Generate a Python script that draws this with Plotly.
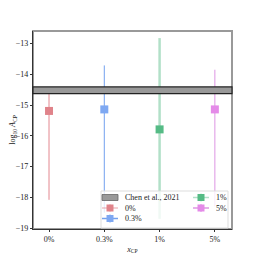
import plotly.graph_objects as go

categories = ["0%", "0.3%", "1%", "5%"]
centers = [-15.19, -15.14, -15.79, -15.14]
upper = [-14.49, -13.71, -12.82, -13.85]
lower = [-18.08, -18.5, -18.7, -18.3]
band_lo, band_hi = -14.63, -14.41
band_label = "Chen et al., 2021"
marker_colors = ["#e0838a", "#7ea8f2", "#55bb85", "#e48ae8"]
bar_colors = ["rgba(224,120,128,0.45)", "rgba(90,145,235,0.85)", "rgba(85,187,133,0.45)", "rgba(215,130,222,0.85)"]
bar_widths = [2, 1, 2.5, 1]
yticks = [-19, -18, -17, -16, -15, -14, -13]

FONT = "Liberation Serif"
OFF = 8  # browser body margin
W = H = 250
ML, MR, MT, MB = 25, 26, 23, 29
PW, PH = W - ML - MR, H - MT - MB


def px(X):
    return (X - OFF - ML) / PW


def py(Y):
    return (H - MB - (Y - OFF)) / PH


fig = go.Figure()
xs = list(range(len(categories)))
for i, cat in enumerate(categories):
    fig.add_trace(go.Scatter(
        x=[xs[i]], y=[centers[i]], mode="markers", name=cat,
        marker=dict(symbol="square", size=8, color=marker_colors[i]),
        error_y=dict(type="data", symmetric=False,
                     array=[upper[i] - centers[i]], arrayminus=[centers[i] - lower[i]],
                     color=bar_colors[i], thickness=bar_widths[i], width=0),
        showlegend=False))

shapes = []
shapes.append(dict(type="rect", xref="x domain", yref="y", x0=0, x1=1, y0=band_lo, y1=band_hi,
                   fillcolor="#999999", line=dict(color="#222222", width=1.2), layer="above"))
shapes.append(dict(type="rect", xref="paper", yref="paper", x0=0, x1=1, y0=0, y1=1,
                   line=dict(color="#999999", width=2), layer="below"))
shapes.append(dict(type="rect", xref="paper", yref="paper", x0=px(101), x1=px(228), y0=py(228), y1=py(191),
                   line=dict(color="#dddddd", width=1), fillcolor="rgba(255,255,255,0.8)", layer="above"))

annotations = []
rows = [197.5, 208, 218.5]
entries = [(band_label, 110, rows[0], "patch", None),
           (categories[0], 110, rows[1], "marker", 0),
           (categories[1], 110, rows[2], "marker", 1),
           (categories[2], 201, rows[0], "marker", 2),
           (categories[3], 201, rows[1], "marker", 3)]
for label, cx, cy, kind, ci in entries:
    if kind == "patch":
        shapes.append(dict(type="rect", xref="paper", yref="paper", x0=px(cx - 8), x1=px(cx + 8),
                           y0=py(cy + 3), y1=py(cy - 3), fillcolor="#999999",
                           line=dict(color="#666666", width=0.8), layer="above"))
    else:
        shapes.append(dict(type="line", xref="paper", yref="paper", x0=px(cx - 8), x1=px(cx + 8),
                           y0=py(cy), y1=py(cy), line=dict(color=bar_colors[ci], width=1.5), layer="above"))
        shapes.append(dict(type="line", xref="paper", yref="paper", x0=px(cx), x1=px(cx),
                           y0=py(cy + 4), y1=py(cy - 4), line=dict(color=bar_colors[ci], width=1), layer="above"))
        shapes.append(dict(type="rect", xref="paper", yref="paper", x0=px(cx - 3.5), x1=px(cx + 3.5),
                           y0=py(cy + 3.5), y1=py(cy - 3.5), fillcolor=marker_colors[ci],
                           line=dict(width=0), layer="above"))
    annotations.append(dict(xref="paper", yref="paper", x=px(cx + 13), y=py(cy), text=label,
                            showarrow=False, xanchor="left", yanchor="middle",
                            font=dict(family=FONT, size=8, color="#222")))

fig.update_layout(
    width=W, height=H,
    margin=dict(l=ML, r=MR, t=MT, b=MB),
    plot_bgcolor="white", paper_bgcolor="white",
    font=dict(family=FONT, size=8, color="#222"),
    showlegend=False,
    shapes=shapes, annotations=annotations,
    xaxis=dict(range=[-0.29, 3.31], tickvals=xs, ticktext=categories, showgrid=False, zeroline=False,
               automargin=False,
               showline=True, linecolor="#333", linewidth=1.2, ticks="outside", ticklen=2, tickcolor="#333",
               title=dict(text="<i>x</i><sub>CP</sub>", font=dict(size=8), standoff=3)),
    yaxis=dict(range=[-19.03, -12.59], tickvals=yticks, ticktext=["\u2212%d" % abs(v) for v in yticks],
               showgrid=False, zeroline=False, automargin=False,
               showline=True, linecolor="#333", linewidth=1.2, ticks="outside", ticklen=2, tickcolor="#333",
               title=dict(text="log<sub>10</sub> <i>A</i><sub>CP</sub>", font=dict(size=8), standoff=5)),
)
fig.write_html("out.html")
